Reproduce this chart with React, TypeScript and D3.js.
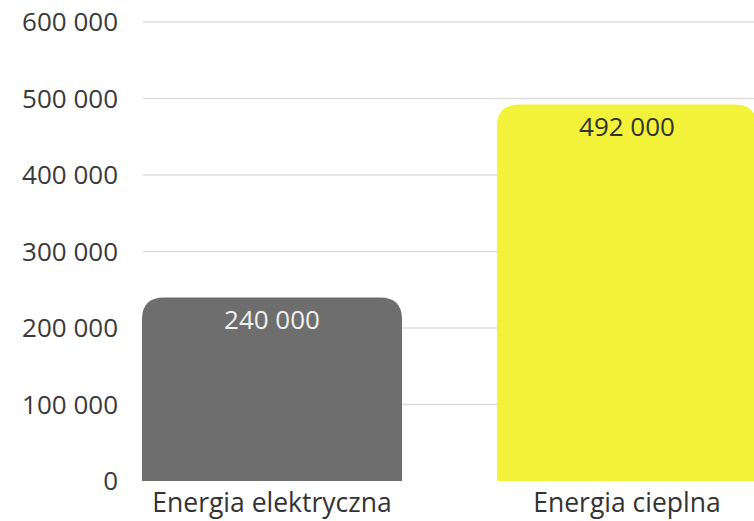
import * as d3 from "d3";

const categories = ["Energia elektryczna", "Energia cieplna"];
const values = [240000, 492000];
const barColors = ["#6e6e6e", "#f2f23a"];
const labelColors = ["#f0f0f0", "#333333"];
const yTicks = [0, 100000, 200000, 300000, 400000, 500000, 600000];

const W = 754;
const H = 521;
const font = "'Open Sans', sans-serif";

const fmt = (v: number) => d3.format(",")(v).replace(/,/g, " ");

function roundedTop(x: number, y: number, w: number, h: number, r: number): string {
  const rr = Math.min(r, w / 2, h);
  return `M${x},${y + h}V${y + rr}Q${x},${y} ${x + rr},${y}H${x + w - rr}Q${x + w},${y} ${x + w},${y + rr}V${y + h}Z`;
}

export default function App() {
  const y = d3.scaleLinear().domain([0, 600000]).range([481, 22]);
  const x = d3
    .scaleBand<string>()
    .domain(categories)
    .range([142, 757])
    .paddingInner(0.2676)
    .paddingOuter(0);

  return (
    <svg
      width={W}
      height={H}
      style={{ position: "absolute", left: 0, top: 0, background: "#fff" }}
      fontFamily={font}
    >
      {yTicks.map((t) => (
        <g key={t}>
          {t > 0 && (
            <line x1={143} x2={W} y1={y(t)} y2={y(t)} stroke="#dcdcdc" strokeWidth={1.5} />
          )}
          <text
            x={118}
            y={y(t)}
            dy="0.35em"
            textAnchor="end"
            fontSize={26}
            fill="#3a3a3a"
          >
            {fmt(t)}
          </text>
        </g>
      ))}
      {categories.map((c, i) => {
        const bx = x(c) ?? 0;
        const bw = x.bandwidth();
        const top = y(values[i]);
        return (
          <g key={c}>
            <path d={roundedTop(bx, top, bw, y(0) - top, 22)} fill={barColors[i]} />
            <text
              x={bx + bw / 2}
              y={top + 22}
              dy="0.35em"
              textAnchor="middle"
              fontSize={26}
              fill={labelColors[i]}
            >
              {fmt(values[i])}
            </text>
            <text
              x={bx + bw / 2}
              y={503}
              dy="0.35em"
              textAnchor="middle"
              fontSize={26.5}
              fill="#333"
            >
              {c}
            </text>
          </g>
        );
      })}
    </svg>
  );
}
